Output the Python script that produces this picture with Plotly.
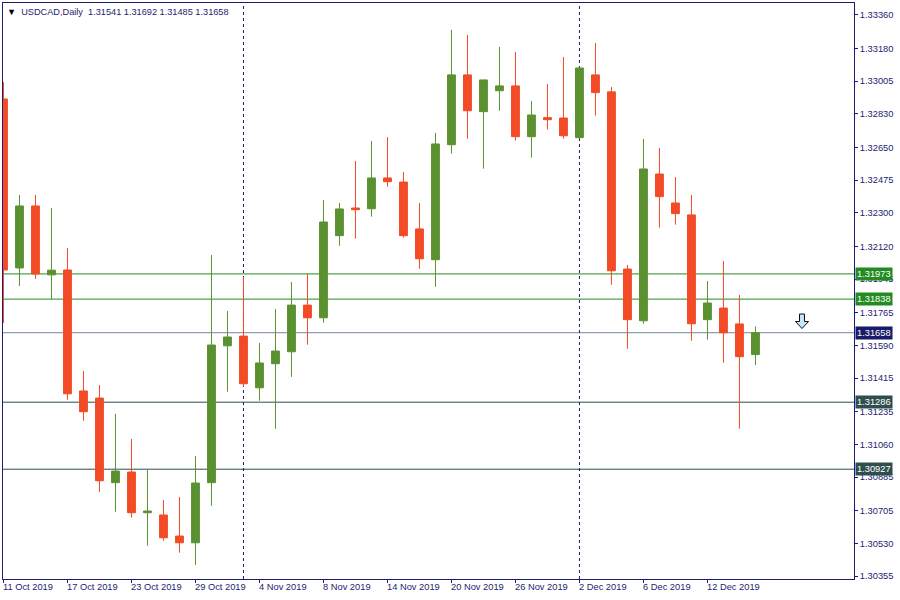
import plotly.graph_objects as go

# ---------------- data ----------------
dates = ["2019-10-11", "2019-10-14", "2019-10-15", "2019-10-16", "2019-10-17", "2019-10-18",
         "2019-10-21", "2019-10-22", "2019-10-23", "2019-10-24", "2019-10-25", "2019-10-28",
         "2019-10-29", "2019-10-30", "2019-10-31", "2019-11-01", "2019-11-04", "2019-11-05",
         "2019-11-06", "2019-11-07", "2019-11-08", "2019-11-11", "2019-11-12", "2019-11-13",
         "2019-11-14", "2019-11-15", "2019-11-18", "2019-11-19", "2019-11-20", "2019-11-21",
         "2019-11-22", "2019-11-25", "2019-11-26", "2019-11-27", "2019-11-28", "2019-11-29",
         "2019-12-02", "2019-12-03", "2019-12-04", "2019-12-05", "2019-12-06", "2019-12-09",
         "2019-12-10", "2019-12-11", "2019-12-12", "2019-12-13", "2019-12-16", "2019-12-17"]

open_ = [1.32910, 1.32005, 1.32337, 1.31968, 1.31994, 1.31346, 1.31308, 1.30855, 1.30912, 1.30694,
         1.30682, 1.30569, 1.30533, 1.30855, 1.31588, 1.31640, 1.31363, 1.31492, 1.31556, 1.31806,
         1.31738, 1.32178, 1.32326, 1.32322, 1.32487, 1.32465, 1.32214, 1.32049, 1.32665, 1.33039,
         1.32842, 1.32954, 1.32980, 1.32708, 1.32810, 1.32808, 1.32703, 1.33039, 1.32948, 1.31999,
         1.31722, 1.32508, 1.32353, 1.32289, 1.31728, 1.31790, 1.31705, 1.31541]
high = [1.33001, 1.32396, 1.32396, 1.32326, 1.32112, 1.31453, 1.31378, 1.31223, 1.31089, 1.30924,
        1.30762, 1.30778, 1.30998, 1.32074, 1.31774, 1.31956, 1.31603, 1.31785, 1.31930, 1.31973,
        1.32369, 1.32353, 1.32578, 1.32685, 1.32706, 1.32519, 1.32353, 1.32728, 1.33280, 1.33253,
        1.33012, 1.33189, 1.33162, 1.32899, 1.32990, 1.33135, 1.33078, 1.33210, 1.32974, 1.32021,
        1.32696, 1.32648, 1.32492, 1.32396, 1.31935, 1.32042, 1.31860, 1.31692]
low = [1.31710, 1.31908, 1.31946, 1.31839, 1.31299, 1.31187, 1.30806, 1.30699, 1.30667, 1.30517,
       1.30544, 1.30480, 1.30415, 1.30731, 1.31342, 1.31369, 1.31294, 1.31144, 1.31422, 1.31594,
       1.31712, 1.32124, 1.32162, 1.32280, 1.32440, 1.32167, 1.32001, 1.31904, 1.32617, 1.32697,
       1.32537, 1.32847, 1.32687, 1.32596, 1.32746, 1.32697, 1.32698, 1.32821, 1.31915, 1.31572,
       1.31706, 1.32221, 1.32237, 1.31615, 1.31621, 1.31497, 1.31144, 1.31485]
close = [1.31994, 1.32337, 1.31973, 1.31993, 1.31331, 1.31235, 1.30865, 1.30917, 1.30694, 1.30703,
         1.30560, 1.30533, 1.30853, 1.31592, 1.31635, 1.31385, 1.31496, 1.31560, 1.31806, 1.31738,
         1.32251, 1.32321, 1.32317, 1.32487, 1.32467, 1.32178, 1.32054, 1.32669, 1.33039, 1.32847,
         1.33012, 1.32980, 1.32708, 1.32824, 1.32799, 1.32713, 1.33076, 1.32944, 1.31990, 1.31728,
         1.32535, 1.32387, 1.32296, 1.31706, 1.31817, 1.31658, 1.31530, 1.31658]

x_tick_dates = ["2019-10-11", "2019-10-17", "2019-10-23", "2019-10-29", "2019-11-04", "2019-11-08",
                "2019-11-14", "2019-11-20", "2019-11-26", "2019-12-02", "2019-12-06", "2019-12-12"]
x_tick_labels = ["11 Oct 2019", "17 Oct 2019", "23 Oct 2019", "29 Oct 2019", "4 Nov 2019",
                 "8 Nov 2019", "14 Nov 2019", "20 Nov 2019", "26 Nov 2019", "2 Dec 2019",
                 "6 Dec 2019", "12 Dec 2019"]

y_ticks = [1.33360, 1.33180, 1.33005, 1.32830, 1.32650, 1.32475, 1.32300, 1.32120, 1.31945,
           1.31765, 1.31590, 1.31415, 1.31235, 1.31060, 1.30885, 1.30705, 1.30530, 1.30355]

level_prices = [1.31973, 1.31838, 1.31286, 1.30927]
level_colors = ["#228b22", "#228b22", "#2f4f4f", "#2f4f4f"]
level_label_bg = ["#228b22", "#228b22", "#2f4f4f", "#2f4f4f"]

period_separators = ["2019-11-01", "2019-12-02"]

symbol = "USDCAD,Daily"

# ---------------- styling ----------------
NAVY = "#1c1c72"
GREEN = "#5b9130"
RED = "#f24b26"
FONT = "Liberation Sans"
FS = 9.3

fig = go.Figure()
fig.add_trace(go.Candlestick(
    x=dates, open=open_, high=high, low=low, close=close,
    increasing=dict(line=dict(color=GREEN, width=1), fillcolor=GREEN),
    decreasing=dict(line=dict(color=RED, width=1), fillcolor=RED),
    whiskerwidth=0, hoverinfo="skip", showlegend=False,
))

shapes = []
for p, c in zip(level_prices, level_colors):
    shapes.append(dict(type="line", xref="paper", x0=0, x1=1, yref="y", y0=p, y1=p,
                       line=dict(color=c, width=1), layer="below"))
# current price line
shapes.append(dict(type="line", xref="paper", x0=0, x1=1, yref="y", y0=close[-1], y1=close[-1],
                   line=dict(color="#778899", width=1), layer="below"))
for d in period_separators:
    shapes.append(dict(type="line", xref="x", x0=d, x1=d, yref="paper", y0=0, y1=1,
                       line=dict(color=NAVY, width=1, dash="3px,3px"), layer="below"))
# down arrow marker
shapes.append(dict(type="path", xref="paper", yref="paper", xsizemode="pixel", ysizemode="pixel",
                   xanchor=0.9389, yanchor=0.447,
                   path="M -2.5,7.5 L 2.5,7.5 L 2.5,0 L 6.5,0 L 0,-7 L -6.5,0 L -2.5,0 Z",
                   fillcolor="#c6e6fa", line=dict(color="#101010", width=1)))

annotations = []
# x labels, left aligned at the tick
for d, t in zip(x_tick_dates, x_tick_labels):
    annotations.append(dict(x=d, xref="x", y=0, yref="paper", yanchor="top", xanchor="left",
                            yshift=-1, xshift=-2, text=t, showarrow=False,
                            font=dict(family=FONT, size=FS, color=NAVY)))
# price labels on the right axis
for p, bg in zip(level_prices, level_label_bg):
    annotations.append(dict(x=1, xref="paper", y=p, yref="y", xanchor="left", yanchor="middle",
                            xshift=1, text="%.5f" % p, showarrow=False, bgcolor=bg, borderpad=1,
                            font=dict(family=FONT, size=FS, color="white")))
annotations.append(dict(x=1, xref="paper", y=close[-1], yref="y", xanchor="left", yanchor="middle",
                        xshift=1, text="%.5f" % close[-1], showarrow=False, bgcolor="#1a1a6a",
                        borderpad=1, font=dict(family=FONT, size=FS, color="white")))
# title
title_text = ('<span style="color:#000">▼</span>  ' + symbol + "  " +
              " ".join("%.5f" % v for v in (open_[-1], high[-1], low[-1], close[-1])))
annotations.append(dict(x=0, xref="paper", y=1, yref="paper", xanchor="left", yanchor="top",
                        xshift=2, yshift=-2, text=title_text, showarrow=False,
                        font=dict(family=FONT, size=9.2, color=NAVY)))

fig.update_layout(
    width=900, height=600,
    margin=dict(l=3, r=46, t=3, b=21, autoexpand=False),
    paper_bgcolor="white", plot_bgcolor="white",
    shapes=shapes, annotations=annotations,
    showlegend=False,
    xaxis=dict(type="category", range=[-0.03, 53.16], rangeslider=dict(visible=False),
               automargin=False,
               showgrid=False, zeroline=False, showline=True, mirror=True,
               linecolor=NAVY, linewidth=1,
               tickmode="array", tickvals=x_tick_dates, ticktext=[""] * len(x_tick_dates),
               ticks="outside", ticklen=3, tickcolor=NAVY),
    yaxis=dict(side="right", range=[1.30339, 1.33424], showgrid=False, zeroline=False,
               automargin=False,
               showline=True, mirror=True, linecolor=NAVY, linewidth=1,
               tickmode="array", tickvals=y_ticks, ticktext=["%.5f" % v for v in y_ticks],
               ticks="outside", ticklen=3, tickcolor=NAVY,
               tickfont=dict(family=FONT, size=FS, color=NAVY)),
)

fig.write_html("out.html", config={"displayModeBar": False},
               post_script="document.body.style.margin='0';document.body.style.overflow='hidden';")
